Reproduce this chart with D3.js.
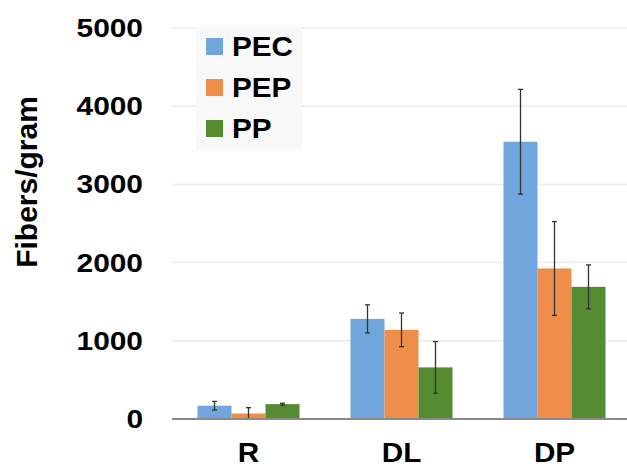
<!DOCTYPE html>
<html>
<head>
<meta charset="utf-8">
<script src="https://cdn.jsdelivr.net/npm/d3@7"></script>
<style>
  body { margin: 0; background: #fff; }
  text { font-family: "Liberation Sans", Arial, sans-serif; font-weight: bold; fill: #000; }
</style>
</head>
<body>
<div id="content"></div>
<script>
// data
const sites = ['R', 'DL', 'DP'];
const series = ['PEC', 'PEP', 'PP'];
const pecValues = [170, 1280, 3545];
const pepValues = [70, 1140, 1925];
const ppValues = [190, 660, 1690];
const pecErrors = [55, 180, 670];
const pepErrors = [75, 215, 600];
const ppErrors = [12, 330, 280];
const yTicks = [0, 1000, 2000, 3000, 4000, 5000];

const colors = ['#70a6dc', '#ef8d4b', '#558b31'];

const width = 627, height = 468;
const svg = d3.select('#content').append('svg')
  .attr('width', width).attr('height', height)
  .style('display', 'block');

const rows = sites.map((s, i) => ({
  site: s,
  vals: [pecValues[i], pepValues[i], ppValues[i]],
  errs: [pecErrors[i], pepErrors[i], ppErrors[i]]
}));

const x = d3.scaleBand().domain(sites).range([172, 631])
  .paddingInner(1 / 3).paddingOuter(1 / 6);
const xs = d3.scaleBand().domain(series).range([0, x.bandwidth()]);
const y = d3.scaleLinear().domain([0, 5000]).range([419, 28]);

// gridlines
svg.append('g').selectAll('line').data(yTicks.slice(1)).join('line')
  .attr('x1', 172).attr('x2', width)
  .attr('y1', d => y(d)).attr('y2', d => y(d))
  .attr('stroke', '#ebebeb').attr('stroke-width', 1.5);

// legend box
const legend = svg.append('g');
legend.append('rect').attr('x', 196).attr('y', 26).attr('width', 106).attr('height', 124)
  .attr('fill', '#f8f8f8');
series.forEach((s, i) => {
  const ly = 46 + i * 41;
  legend.append('rect').attr('x', 206).attr('y', ly - 8).attr('width', 17).attr('height', 17)
    .attr('fill', colors[i]);
  legend.append('text').attr('transform', `translate(232,${ly + 10}) scale(1.1,1)`)
    .style('font-size', '27px').text(s);
});

// bars
const groups = svg.append('g').selectAll('g').data(rows).join('g')
  .attr('transform', d => `translate(${x(d.site)},0)`);
groups.selectAll('rect').data(d => d.vals.map((v, i) => ({ v, e: d.errs[i], i }))).join('rect')
  .attr('x', d => xs(series[d.i])).attr('width', xs.bandwidth())
  .attr('y', d => y(d.v)).attr('height', d => y(0) - y(d.v))
  .attr('fill', d => colors[d.i]);

// error bars
const eb = groups.selectAll('g.err').data(d => d.vals.map((v, i) => ({ v, e: d.errs[i], i }))).join('g')
  .attr('class', 'err')
  .attr('transform', d => `translate(${xs(series[d.i]) + xs.bandwidth() / 2},0)`)
  .attr('stroke', '#333').attr('stroke-width', 1.3);
eb.append('line').attr('y1', d => y(d.v - d.e)).attr('y2', d => y(d.v + d.e));
eb.append('line').attr('x1', -2.5).attr('x2', 2.5).attr('y1', d => y(d.v + d.e)).attr('y2', d => y(d.v + d.e));
eb.append('line').attr('x1', -2.5).attr('x2', 2.5).attr('y1', d => y(d.v - d.e)).attr('y2', d => y(d.v - d.e));

// baseline
svg.append('line').attr('x1', 172).attr('x2', width).attr('y1', y(0)).attr('y2', y(0))
  .attr('stroke', '#8a8a8a').attr('stroke-width', 2);

// y tick labels
svg.append('g').selectAll('text').data(yTicks).join('text')
  .attr('transform', d => `translate(143,${y(d) + 9}) scale(1.15,1)`)
  .attr('text-anchor', 'end')
  .style('font-size', '26px')
  .text(d => d);

// x labels
svg.append('g').selectAll('text').data(sites).join('text')
  .attr('transform', d => `translate(${x(d) + x.bandwidth() / 2},462) scale(1.1,1)`)
  .attr('text-anchor', 'middle')
  .style('font-size', '27px')
  .text(d => d);

// y title
svg.append('text')
  .attr('transform', 'translate(37,182) rotate(-90)')
  .attr('text-anchor', 'middle')
  .style('font-size', '30px')
  .text('Fibers/gram');
</script>
</body>
</html>
